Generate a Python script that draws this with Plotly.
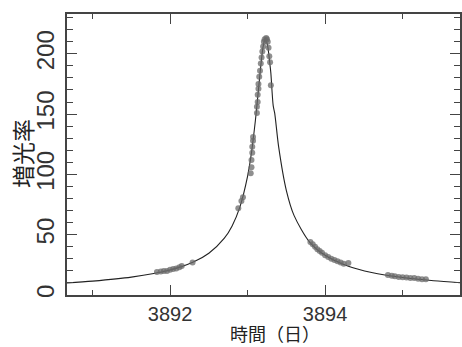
import plotly.graph_objects as go

# Observed data (time in days, magnification)
obs_t = [3891.83, 3891.88, 3891.92, 3891.96, 3892.00, 3892.04, 3892.08, 3892.12, 3892.15, 3892.29,
         3892.88, 3892.92, 3892.94, 3893.04, 3893.05, 3893.05, 3893.06, 3893.06, 3893.07, 3893.07,
         3893.12, 3893.12, 3893.13, 3893.13, 3893.14, 3893.14, 3893.15, 3893.16, 3893.17, 3893.18,
         3893.19, 3893.20, 3893.21, 3893.22, 3893.24, 3893.25, 3893.26, 3893.27, 3893.28, 3893.29,
         3893.30,
         3893.81, 3893.84, 3893.87, 3893.90, 3893.93, 3893.96, 3894.00, 3894.04, 3894.08, 3894.12,
         3894.16, 3894.20, 3894.24, 3894.30,
         3894.81, 3894.86, 3894.90, 3894.95, 3895.00, 3895.05, 3895.10, 3895.15, 3895.20, 3895.25,
         3895.30]
obs_a = [19, 19.5, 20, 20, 21, 21.5, 22, 23, 24, 27,
         72, 78, 81, 101, 106, 112, 118, 123, 128, 131,
         151, 156, 160, 166, 171, 175, 181, 186, 192, 197,
         202, 206, 210, 212, 213, 212, 210, 205, 198, 193,
         174,
         44, 42, 40, 38, 36.5, 35, 33, 31.5, 30, 29,
         28, 27, 26, 26.5,
         16.5, 16, 15.5, 15, 14.8, 14.5, 14, 14, 13.5, 13,
         13]

# Model curve
model_t = [3890.67, 3891.0, 3891.5, 3892.0, 3892.3, 3892.5, 3892.7, 3892.8, 3892.9, 3893.0,
           3893.05, 3893.1, 3893.12, 3893.15, 3893.17, 3893.2, 3893.23, 3893.26, 3893.29, 3893.3,
           3893.33, 3893.35, 3893.4, 3893.5, 3893.6, 3893.8, 3894.0, 3894.3, 3894.6, 3895.0,
           3895.4, 3895.74]
model_a = [10.0, 11.5, 14.8, 20.7, 27.3, 34.6, 47.1, 57.3, 72.9, 98.6,
           118, 144.5, 157, 177, 190, 206, 213, 206, 190, 184,
           157, 150.6, 123, 86.6, 65.8, 43.9, 32.9, 23.8, 18.6, 14.45,
           11.8, 10.2]

x_ticks = [3892, 3894]
y_ticks = [0, 50, 100, 150, 200]

fig = go.Figure()
fig.add_trace(go.Scatter(x=model_t, y=model_a, mode="lines",
                         line=dict(color="#222222", width=1.1, shape="spline", smoothing=0.8),
                         hoverinfo="skip", showlegend=False))
fig.add_trace(go.Scatter(x=obs_t, y=obs_a, mode="markers",
                         marker=dict(color="rgba(105,105,105,0.75)", size=6, line=dict(width=0)),
                         showlegend=False))

axis_common = dict(showgrid=False, zeroline=False, showline=True, linecolor="#444444",
                   linewidth=1.5, mirror="ticks", ticks="inside", tickcolor="#444444",
                   tickwidth=1.2, automargin=False)

fig.update_xaxes(range=[3890.67, 3895.74], tickvals=x_ticks, ticktext=[str(v) for v in x_ticks],
                 ticklen=10, tickfont=dict(family="Liberation Sans", size=20, color="#333333"),
                 ticklabelstandoff=0,
                 minor=dict(dtick=1, tick0=3891, ticks="inside", ticklen=5, tickcolor="#444444",
                            tickwidth=1.2),
                 **axis_common)
fig.update_yaxes(range=[0, 233], tickvals=y_ticks, ticktext=[str(v) for v in y_ticks],
                 ticklen=10, tickangle=-90,
                 tickfont=dict(family="Liberation Sans", size=24, color="#333333"),
                 ticklabelstandoff=2,
                 minor=dict(dtick=10, tick0=0, ticks="inside", ticklen=6, tickcolor="#444444",
                            tickwidth=1.2),
                 **axis_common)

fig.add_annotation(text="時間（日）", xref="paper", yref="paper", x=0.529, y=-0.137,
                   xanchor="center", yanchor="middle", showarrow=False,
                   font=dict(family="Noto Sans CJK JP", size=18, color="#222222"))
fig.add_annotation(text="増光率", xref="paper", yref="paper", x=-0.115, y=0.505,
                   xanchor="center", yanchor="middle", showarrow=False, textangle=-90,
                   font=dict(family="Noto Sans CJK JP", size=23, color="#222222"))

fig.update_layout(width=462, height=347, margin=dict(l=67, r=2, t=14, b=52),
                  paper_bgcolor="white", plot_bgcolor="white")

fig.write_html("out.html")
